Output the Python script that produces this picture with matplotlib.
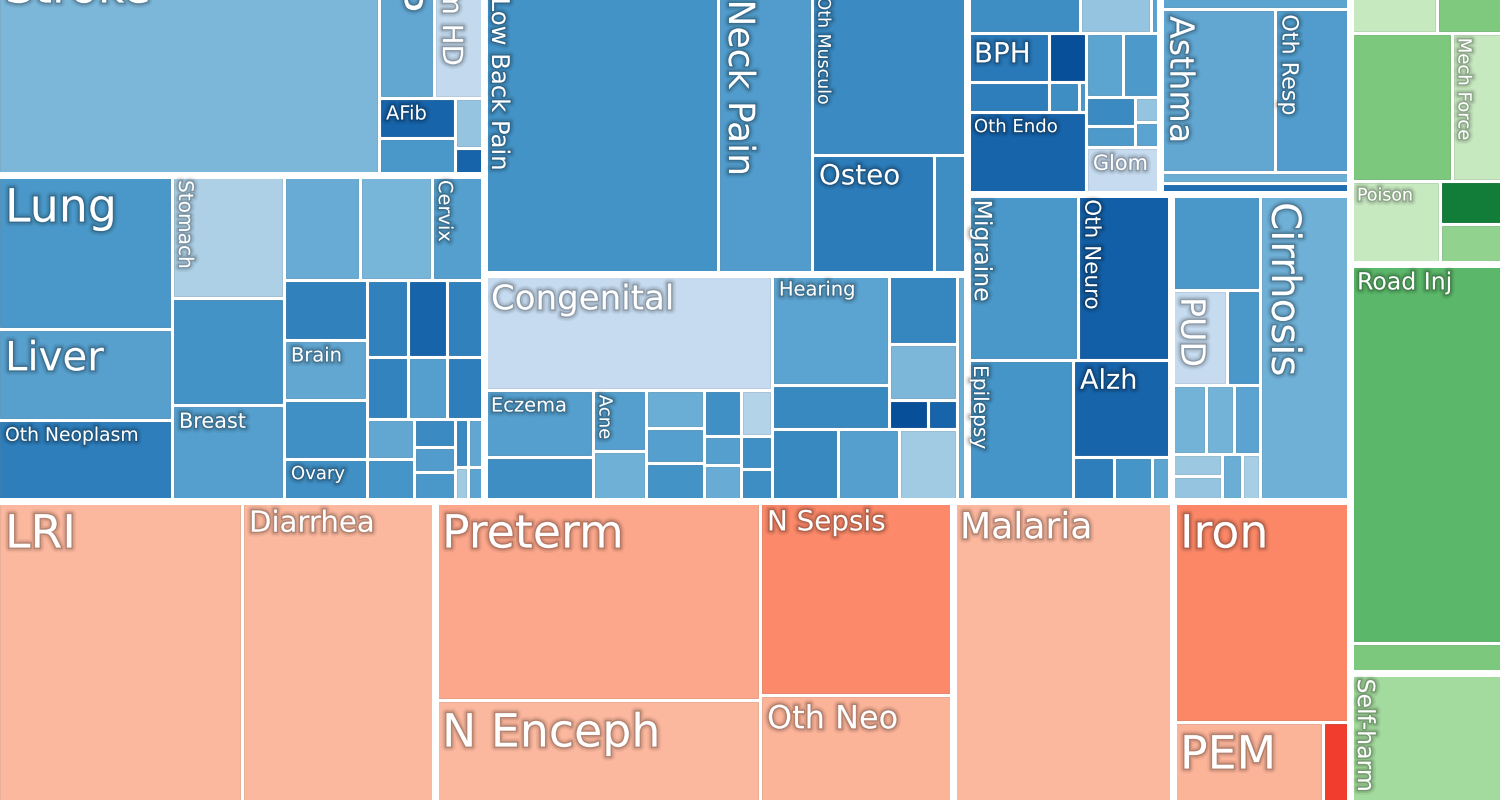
import matplotlib
matplotlib.use("Agg")
import matplotlib.pyplot as plt
import matplotlib.patheffects as pe
from matplotlib.patches import Rectangle

# ---- data: burden per cause (DALYs, arbitrary units) and a colour metric per cause ----
cardio_names = ["", "Stroke", "CMP", "Rheum HD", "AFib", "", "", ""]
cardio_dalys = [175.3, 834.4, 103.4, 94.0, 30.4, 28.1, 14.5, 7.8]
cardio_shade = [0.50, 0.46, 0.53, 0.26, 0.80, 0.60, 0.40, 0.80]

neo_names = ["Lung", "Liver", "Oth Neoplasm", "Stomach", "", "Breast", "", "", "Cervix",
             "", "Brain", "", "Ovary", "", "", "", "", "", "", "", "", "", "", "", "", "", "", ""]
neo_dalys = [268.0, 158.3, 140.9, 137.8, 119.8, 107.5, 79.8, 75.6, 54.6,
             49.8, 49.8, 49.0, 34.9, 31.6, 30.0, 28.5, 25.4, 24.2, 22.9,
             18.8, 19.7, 11.5, 10.3, 11.9, 6.2, 7.7, 4.4, 5.4]
neo_shade = [0.60, 0.56, 0.70, 0.33, 0.62, 0.57, 0.51, 0.47, 0.57,
             0.69, 0.53, 0.63, 0.63, 0.69, 0.80, 0.69, 0.68, 0.57, 0.70,
             0.53, 0.61, 0.65, 0.58, 0.60, 0.65, 0.53, 0.37, 0.55]

mental_names = [""]
mental_dalys = [396.1]
mental_shade = [0.55]

musc_names = ["Low Back Pain", "Neck Pain", "Oth Musculo", "Osteo", ""]
musc_dalys = [659.9, 265.1, 252.7, 145.2, 39.3]
musc_shade = [0.62, 0.58, 0.65, 0.71, 0.64]

oth_names = ["Congenital", "Eczema", "", "Acne", "", "", "", "", "", "", "", "", "", "",
             "Hearing", "", "", "", "", "", "", "", "", ""]
oth_dalys = [334.1, 73.0, 48.0, 32.3, 26.5, 22.0, 20.3, 22.0, 17.0, 10.7, 13.3, 14.3, 10.2, 9.9,
             129.9, 51.5, 47.6, 38.1, 11.3, 8.4, 47.5, 43.9, 41.8, 22.7]
oth_shade = [0.25, 0.57, 0.64, 0.57, 0.49, 0.50, 0.57, 0.62, 0.63, 0.57, 0.51, 0.31, 0.63, 0.64,
             0.55, 0.66, 0.67, 0.46, 0.88, 0.80, 0.66, 0.57, 0.37, 0.50]

due_names = ["", "", "", "BPH", "", "", "", "", "Oth Endo", "", "", "", "", "", "", "Glom"]
due_dalys = [139.0, 87.3, 11.1, 40.2, 18.1, 24.6, 9.0, 2.1, 97.6, 23.7, 23.7, 14.2, 10.3, 6.3, 6.3, 34.8]
due_shade = [0.64, 0.40, 0.55, 0.72, 0.88, 0.70, 0.64, 0.60, 0.80, 0.54, 0.59, 0.65, 0.59, 0.40, 0.55, 0.25]

resp_names = ["", "Asthma", "Oth Resp", "", ""]
resp_dalys = [188.1, 187.5, 122.3, 20.9, 20.9]
resp_shade = [0.54, 0.53, 0.58, 0.50, 0.76]

neuro_names = ["Migraine", "Oth Neuro", "Epilepsy", "Alzh", "", "", ""]
neuro_dalys = [184.3, 154.4, 149.5, 95.1, 18.0, 16.7, 8.4]
neuro_shade = [0.60, 0.82, 0.61, 0.80, 0.70, 0.61, 0.54]

dig_names = ["", "PUD", "", "", "", "", "", "", "", "", "Cirrhosis"]
dig_dalys = [85.4, 53.2, 31.4, 24.2, 19.3, 17.9, 11.2, 12.8, 9.4, 8.5, 276.3]
dig_shade = [0.60, 0.25, 0.60, 0.48, 0.48, 0.55, 0.38, 0.40, 0.50, 0.35, 0.49]

rinf_names = ["LRI", "Diarrhea"]
rinf_dalys = [851.6, 673.6]
rinf_shade = [0.26, 0.26]

neon_names = ["Preterm", "N Enceph", "N Sepsis", "Oth Neo"]
neon_dalys = [646.8, 487.5, 374.4, 299.2]
neon_shade = [0.31, 0.26, 0.40, 0.27]

ntd_names = ["Malaria"]
ntd_dalys = [767.8]
ntd_shade = [0.26]

nutr_names = ["Iron", "PEM", ""]
nutr_dalys = [391.2, 192.0, 34.6]
nutr_shade = [0.41, 0.27, 0.62]

unint_names = ["", "", "", "Mech Force", "Poison", "", ""]
unint_dalys = [107.0, 102.1, 151.0, 100.6, 74.7, 34.4, 32.0]
unint_shade = [0.25, 0.47, 0.48, 0.25, 0.25, 0.81, 0.42]

trans_names = ["Road Inj", ""]
trans_dalys = [644.3, 51.0]
trans_shade = [0.56, 0.48]

self_names = ["Self-harm"]
self_dalys = [300.9]
self_shade = [0.37]

groups = {
    "cardio": (cardio_names, cardio_dalys, cardio_shade, "Blues"),
    "neo": (neo_names, neo_dalys, neo_shade, "Blues"),
    "mental": (mental_names, mental_dalys, mental_shade, "Blues"),
    "musc": (musc_names, musc_dalys, musc_shade, "Blues"),
    "oth": (oth_names, oth_dalys, oth_shade, "Blues"),
    "due": (due_names, due_dalys, due_shade, "Blues"),
    "resp": (resp_names, resp_dalys, resp_shade, "Blues"),
    "neuro": (neuro_names, neuro_dalys, neuro_shade, "Blues"),
    "dig": (dig_names, dig_dalys, dig_shade, "Blues"),
    "rinf": (rinf_names, rinf_dalys, rinf_shade, "Reds"),
    "neon": (neon_names, neon_dalys, neon_shade, "Reds"),
    "ntd": (ntd_names, ntd_dalys, ntd_shade, "Reds"),
    "nutr": (nutr_names, nutr_dalys, nutr_shade, "Reds"),
    "unint": (unint_names, unint_dalys, unint_shade, "Greens"),
    "trans": (trans_names, trans_dalys, trans_shade, "Greens"),
    "self": (self_names, self_dalys, self_shade, "Greens"),
}

# ---- how each group is sliced (h = side by side, v = stacked); ints index the lists above ----
layouts = {
    "cardio": ("h", ("v", 0, 1), ("v", ("h", 2, 3), ("h", ("v", 4, 5), ("v", 6, 7)))),
    "neo": ("h", ("v", 0, 1, 2), ("v", 3, 4, 5),
            ("v", ("h", 6, 7, 8),
             ("h", ("v", 9, 10, 11, 12),
              ("v", ("h", 13, 14, 15), ("h", 16, 17, 18),
               ("h", ("v", 19, 20), ("v", 21, 22, 23), ("v", ("h", 24, 25), ("h", 26, 27))))))),
    "mental": 0,
    "musc": ("h", 0, 1, ("v", 2, ("h", 3, 4))),
    "oth": ("h", ("v", 0, ("h", ("v", 1, 2), ("v", 3, 4), ("v", 5, 6, 7), ("v", 8, 9, 10), ("v", 11, 12, 13))),
            ("v", ("h", ("v", 14, 15), ("v", 16, 17, ("h", 18, 19))), ("h", 20, 21, 22)),
            23),
    "due": ("v", ("h", 0, 1, 2),
            ("h", ("v", ("h", 3, 4), ("h", 5, 6, 7), 8),
             ("v", ("h", 9, 10), ("h", ("v", 11, 12), ("v", 13, 14)), 15))),
    "resp": ("v", 0, ("h", 1, 2), 3, 4),
    "neuro": ("v", ("h", 0, 1), ("h", 2, ("v", 3, ("h", 4, 5, 6)))),
    "dig": ("h", ("v", 0, ("h", 1, 2), ("h", 3, 4, 5), ("h", ("v", 6, 7), 8, 9)), 10),
    "rinf": ("h", 0, 1),
    "neon": ("h", ("v", 0, 1), ("v", 2, 3)),
    "ntd": 0,
    "nutr": ("v", 0, ("h", 1, 2)),
    "unint": ("v", ("h", 0, 1), ("h", 2, 3), ("h", 4, ("v", 5, 6))),
    "trans": ("v", 0, 1),
    "self": 0,
}

ncd = ("h", ("v", "cardio", "neo"), ("v", "mental", "musc", "oth"),
       ("v", ("h", "due", "resp"), ("h", "neuro", "dig")))
cmnn = ("h", "rinf", "neon", "ntd", "nutr")
injuries = ("v", "unint", "trans", "self")
root = ("h", ("v", ncd, cmnn), injuries)

# ---- label styling ----
label_pt = {"Stroke": 33, "CMP": 31, "Rheum HD": 20, "AFib": 14, "Lung": 33, "Liver": 29,
            "Oth Neoplasm": 13.5, "Stomach": 14.5, "Breast": 15, "Cervix": 14, "Brain": 14,
            "Ovary": 13, "Low Back Pain": 17.5, "Neck Pain": 26, "Oth Musculo": 12.5, "Osteo": 20,
            "Congenital": 24.5, "Eczema": 14, "Acne": 13, "Hearing": 14, "BPH": 20, "Oth Endo": 13,
            "Glom": 15, "Asthma": 24, "Oth Resp": 16, "Migraine": 17, "Oth Neuro": 15.5,
            "Epilepsy": 14.5, "Alzh": 19.5, "PUD": 24, "Cirrhosis": 29, "LRI": 33, "Diarrhea": 21,
            "Preterm": 33, "N Enceph": 33, "N Sepsis": 20, "Oth Neo": 23, "Malaria": 26,
            "Iron": 33, "PEM": 33, "Poison": 12.5, "Mech Force": 13, "Road Inj": 17,
            "Self-harm": 17}
rotated = {"CMP", "Rheum HD", "Stomach", "Cervix", "Low Back Pain", "Neck Pain", "Oth Musculo",
           "Acne", "Asthma", "Oth Resp", "Migraine", "Oth Neuro", "Epilepsy", "PUD", "Cirrhosis",
           "Mech Force", "Self-harm"}


def total(spec, g):
    if isinstance(spec, str):
        return total(layouts[spec], spec)
    if isinstance(spec, int):
        return groups[g][1][spec]
    return sum(total(k, g) for k in spec[1:])


leaves = []
outlines = []


def place(spec, g, x, y, w, h):
    if isinstance(spec, str):
        place(layouts[spec], spec, x, y, w, h)
        outlines.append((x, y, w, h))
        return
    if isinstance(spec, int):
        leaves.append((g, spec, x, y, w, h))
        return
    kids = spec[1:]
    tot = sum(total(k, g) for k in kids)
    for k in kids:
        f = total(k, g) / tot
        if spec[0] == "h":
            place(k, g, x, y, w * f, h)
            x += w * f
        else:
            place(k, g, x, y, w, h * f)
            y += h * f


# the visible window is a crop of a larger treemap
place(root, None, -2, -90, 1522, 940)

fig = plt.figure(figsize=(15, 8), dpi=100)
ax = fig.add_axes([0, 0, 1, 1])
ax.set_xlim(0, 1500)
ax.set_ylim(800, 0)
ax.axis("off")

glow = [pe.Stroke(linewidth=7, foreground="k", alpha=0.05),
        pe.Stroke(linewidth=4.5, foreground="k", alpha=0.09),
        pe.Stroke(linewidth=2.2, foreground="k", alpha=0.16),
        pe.Normal()]

for g, i, x, y, w, h in leaves:
    names, dalys, shade, cmap = groups[g]
    c = plt.get_cmap(cmap)(shade[i])
    dark = tuple(v * 0.9 for v in c[:3])
    ax.add_patch(Rectangle((x + 2, y + 2), max(w - 4, 0.5), max(h - 4, 0.5),
                           facecolor=c, edgecolor=dark, linewidth=0.6))

for x, y, w, h in outlines:
    ax.add_patch(Rectangle((x, y), w, h, fill=False, edgecolor="white", linewidth=7 * 0.72))

for g, i, x, y, w, h in leaves:
    name = groups[g][0][i]
    if name not in label_pt:
        continue
    pt = label_pt[name]
    em = pt * 100 / 72
    vx, vy = x + 2, y + 2
    if name in rotated:
        ax.text(vx + 0.25 * em, vy + 0.15 * em, name, rotation=-90, rotation_mode="anchor",
                ha="left", va="baseline", fontsize=pt, color="white",
                path_effects=glow, clip_on=True)
    else:
        ax.text(vx + 5, vy + 0.95 * em + 1, name, ha="left", va="baseline", fontsize=pt,
                color="white", path_effects=glow, clip_on=True)

fig.savefig("out.png", dpi=100, facecolor="white")
